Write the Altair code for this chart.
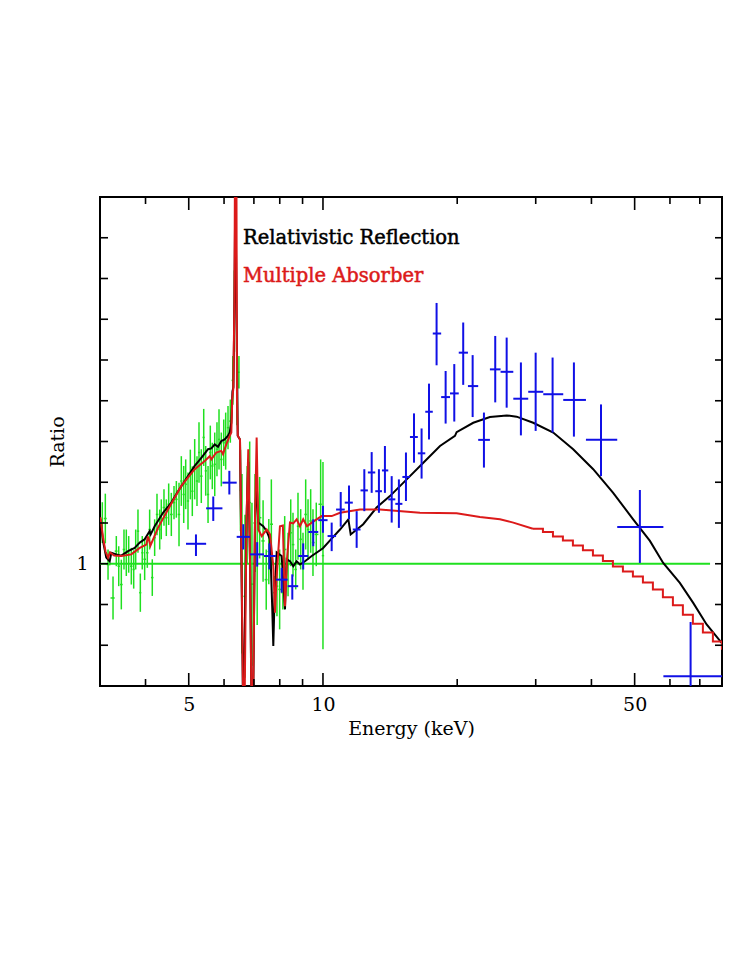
import altair as alt
import pandas as pd
import numpy as np

# ---------------- data ----------------
# green: low-energy spectrum (ratio points with 1-sigma errors)
green_E = [3.20, 3.25, 3.296, 3.382, 3.440, 3.483, 3.530, 3.579, 3.622, 3.667,
           3.717, 3.763, 3.802, 3.847, 3.894, 3.933, 3.982, 4.037, 4.086, 4.142,
           4.193, 4.244, 4.304, 4.339, 4.400, 4.453, 4.508, 4.570, 4.634, 4.690,
           4.755, 4.812, 4.872, 4.922, 4.981, 5.041, 5.093, 5.156, 5.218, 5.272,
           5.335, 5.402, 5.458, 5.524, 5.589, 5.647, 5.718, 5.785, 5.846, 5.916,
           5.990, 6.051, 6.124, 6.198, 6.28, 6.33, 6.36, 6.415, 6.48, 6.53,
           6.583, 6.685, 6.76, 6.85, 6.93, 7.04, 7.12, 7.21, 7.34, 7.46,
           7.56, 7.66, 7.79, 7.885, 7.995, 8.13, 8.206, 8.35, 8.466, 8.566,
           8.687, 8.79, 8.913, 9.02, 9.146, 9.257, 9.385, 9.497, 9.66, 9.88, 10.0]
green_R = [1.101, 1.111, 0.998, 0.916, 1.031, 0.994, 0.949, 1.035, 1.027, 1.023,
           0.994, 0.986, 1.035, 1.080, 0.929, 1.027, 1.011, 1.027, 1.084, 0.966,
           1.064, 1.121, 1.084, 1.109, 1.138, 1.113, 1.146, 1.121, 1.150, 1.158,
           1.121, 1.203, 1.170, 1.195, 1.154, 1.219, 1.178, 1.232, 1.203, 1.273,
           1.215, 1.310, 1.228, 1.170, 1.273, 1.240, 1.244, 1.281, 1.305, 1.256,
           1.297, 1.301, 1.334, 1.350, 1.45, 1.62, 1.72, 1.40, 1.47, 1.18,
           1.00, 0.92, 1.12, 1.15, 0.95, 1.10, 1.00, 1.113, 1.056, 0.961,
           1.03, 1.097, 0.929, 0.945, 0.937, 0.929, 1.035, 0.998, 1.076, 1.047,
           0.986, 1.092, 1.060, 1.006, 1.121, 1.084, 1.105, 1.052, 1.072, 1.146, 1.02]
green_err = [0.05, 0.061, 0.037, 0.053, 0.037, 0.049, 0.061, 0.049, 0.057, 0.045,
             0.045, 0.047, 0.049, 0.053, 0.047, 0.041, 0.051, 0.037, 0.049, 0.045,
             0.045, 0.051, 0.049, 0.049, 0.045, 0.045, 0.051, 0.053, 0.041, 0.045,
             0.078, 0.061, 0.070, 0.061, 0.070, 0.061, 0.061, 0.074, 0.061, 0.074,
             0.066, 0.070, 0.061, 0.070, 0.066, 0.057, 0.078, 0.066, 0.074, 0.066,
             0.057, 0.070, 0.053, 0.053, 0.06, 0.10, 0.08, 0.06, 0.04, 0.10,
             0.22, 0.20, 0.12, 0.15, 0.20, 0.12, 0.15, 0.10, 0.10, 0.074,
             0.08, 0.11, 0.041, 0.074, 0.098, 0.041, 0.082, 0.078, 0.082, 0.078,
             0.049, 0.082, 0.074, 0.070, 0.086, 0.074, 0.078, 0.082, 0.078, 0.11, 0.23]

# blue: hard X-ray binned ratio points
blue_E = [5.19, 5.675, 6.166, 6.627, 7.12, 7.58, 8.08, 8.535, 9.03, 9.51,
          10.0, 10.46, 10.96, 11.44, 11.90, 12.38, 12.86, 13.35, 13.77, 14.26,
          14.80, 15.35, 16.0, 16.64, 17.29, 17.98, 18.84, 19.70, 20.63, 21.66,
          22.96, 24.34, 25.82, 27.79, 29.99, 32.73, 36.54, 42.02, 51.37, 66.75]
blue_edges = [4.93, 5.47, 5.95, 6.405, 6.86, 7.375, 7.846, 8.335, 8.80, 9.27,
              9.76, 10.24, 10.70, 11.19, 11.665, 12.14, 12.61, 13.10, 13.56, 14.01,
              14.53, 15.07, 15.67, 16.32, 16.96, 17.63, 18.41, 19.27, 20.16, 21.14,
              22.29, 23.68, 25.02, 26.72, 28.86, 31.19, 34.58, 38.88, 45.7, 58.0, 79.0]
blue_R = [1.049, 1.136, 1.199, 1.066, 1.023, 1.019, 0.961, 0.945, 1.019, 1.078,
          1.107, 1.068, 1.133, 1.150, 1.084, 1.180, 1.224, 1.178, 1.229, 1.158,
          1.147, 1.213, 1.311, 1.271, 1.373, 1.565, 1.409, 1.418, 1.518, 1.436,
          1.304, 1.477, 1.471, 1.405, 1.422, 1.416, 1.402, 1.304, 1.090, 0.724]
blue_Rlo = [1.019, 1.105, 1.170, 1.035, 0.993, 0.986, 0.929, 0.912, 0.986, 1.043,
            1.076, 1.031, 1.091, 1.109, 1.039, 1.129, 1.174, 1.125, 1.174, 1.101,
            1.088, 1.154, 1.248, 1.209, 1.305, 1.487, 1.344, 1.349, 1.439, 1.360,
            1.236, 1.396, 1.383, 1.315, 1.326, 1.322, 1.312, 1.215, 1.002, 0.55]
blue_Rhi = [1.072, 1.165, 1.228, 1.097, 1.053, 1.050, 0.990, 0.974, 1.050, 1.109,
            1.142, 1.101, 1.176, 1.192, 1.129, 1.232, 1.274, 1.232, 1.289, 1.215,
            1.207, 1.273, 1.369, 1.332, 1.442, 1.640, 1.473, 1.490, 1.592, 1.512,
            1.371, 1.559, 1.555, 1.494, 1.518, 1.506, 1.494, 1.391, 1.181, 0.857]

# black: relativistic reflection model
black_E = [3.170, 3.211, 3.266, 3.324, 3.352, 3.440, 3.530, 3.654, 3.782, 3.882,
           3.982, 4.086, 4.108, 4.193, 4.378, 4.570, 4.731, 4.981, 5.156, 5.335,
           5.524, 5.619, 5.718, 5.816, 5.916, 6.020, 6.124, 6.178, 6.230, 6.266,
           6.298, 6.331, 6.363, 6.397, 6.440, 6.515, 6.627, 6.738, 6.800, 6.860,
           6.920, 6.966, 7.040, 7.100, 7.160, 7.345, 7.478, 7.607, 7.697, 7.738,
           7.786, 7.874, 8.080, 8.219, 8.291, 8.433, 8.578, 8.730, 8.879, 9.114,
           9.434, 10.00, 10.42, 10.92, 11.40, 11.54, 12.31, 13.19, 14.13, 15.41,
           16.79, 18.30, 19.77, 19.94, 21.73, 23.68, 25.82, 27.18, 29.61, 32.84,
           36.40, 40.37, 44.75, 49.62, 54.10, 57.94, 63.14, 67.65, 72.51, 78.46]
black_R = [1.109, 1.056, 1.015, 1.006, 1.027, 1.023, 1.020, 1.031, 1.039, 1.052,
           1.060, 1.080, 1.072, 1.092, 1.125, 1.150, 1.178, 1.215, 1.240, 1.260,
           1.281, 1.283, 1.293, 1.287, 1.301, 1.305, 1.314, 1.322, 1.346, 1.423,
           1.433, 1.649, 1.950, 1.650, 1.314, 1.305, 0.600, 1.109, 1.250, 1.011,
           0.600, 0.600, 1.109, 1.200, 1.101, 1.092, 1.080, 1.060, 0.888, 0.798,
           0.912, 1.028, 1.019, 0.888, 1.011, 1.006, 0.994, 1.006, 0.998, 1.006,
           1.019, 1.038, 1.060, 1.084, 1.109, 1.072, 1.097, 1.138, 1.166, 1.207,
           1.248, 1.289, 1.314, 1.323, 1.346, 1.360, 1.364, 1.361, 1.346, 1.322,
           1.281, 1.232, 1.174, 1.109, 1.056, 1.002, 0.953, 0.904, 0.851, 0.805]

# red: multiple absorber model (smooth part, then binned high-energy steps)
red_E = [3.170, 3.211, 3.253, 3.296, 3.330, 3.400, 3.530, 3.717, 3.882, 4.016,
         4.051, 4.104, 4.266, 4.492, 4.812, 5.156, 5.430, 5.572, 5.619, 5.765,
         5.916, 5.968, 6.070, 6.178, 6.230, 6.260, 6.292, 6.331, 6.357, 6.390,
         6.415, 6.440, 6.515, 6.567, 6.627, 6.668, 6.738, 6.800, 6.860, 6.920,
         6.966, 7.040, 7.100, 7.160, 7.287, 7.478, 7.607, 7.738, 7.806, 7.865,
         8.008, 8.130, 8.219, 8.304, 8.433, 8.578, 8.730, 8.879, 9.030, 9.207,
         9.434, 9.933, 10.46, 10.92, 12.11, 13.42, 16.50, 19.94, 22.49, 24.94,
         26.72, 29.57]
red_R = [1.114, 1.065, 1.030, 1.015, 1.028, 1.020, 1.019, 1.023, 1.039, 1.047,
         1.067, 1.045, 1.088, 1.133, 1.191, 1.232, 1.252, 1.264, 1.256, 1.273,
         1.277, 1.269, 1.293, 1.314, 1.322, 1.404, 1.428, 1.649, 2.140, 2.140,
         1.404, 1.314, 1.305, 1.011, 0.620, 0.620, 1.109, 1.281, 1.011, 0.620,
         0.620, 1.109, 1.310, 1.084, 1.068, 1.084, 1.072, 0.994, 0.880, 0.961,
         1.092, 1.094, 0.896, 1.011, 1.101, 1.099, 1.109, 1.092, 1.109, 1.092,
         1.101, 1.117, 1.117, 1.125, 1.133, 1.133, 1.125, 1.124, 1.115, 1.109,
         1.101, 1.086]
red_step_E = [29.57, 31.14, 32.79, 34.52, 36.35, 38.28, 40.31, 42.44, 44.69, 47.06,
              49.55, 52.18, 54.94, 57.85, 60.92, 64.14, 67.54, 71.12, 74.89, 78.46]
red_step_R = [1.086, 1.078, 1.067, 1.057, 1.045, 1.033, 1.020, 1.007, 0.993, 0.981,
              0.969, 0.954, 0.937, 0.918, 0.898, 0.875, 0.853, 0.831, 0.809, 0.789]

# unity reference line extent
unity_E = [3.162, 73.8]

# axis ticks / labels
x_major = [5, 10, 50]
x_minor = [4, 6, 7, 8, 9, 20, 30, 40, 60, 70]
y_ticks = [0.8, 0.9, 1.0, 1.1, 1.2, 1.3, 1.4, 1.5, 1.6, 1.7, 1.8]
y_labels = [1]
legend_labels = ["Relativistic Reflection", "Multiple Absorber"]

# ---------------- build tables ----------------
gE = np.array(green_E)
mid = np.sqrt(gE[1:] * gE[:-1])
g_lo = np.concatenate([[gE[0] ** 2 / mid[0]], mid])
g_hi = np.concatenate([mid, [gE[-1] ** 2 / mid[-1]]])
green = pd.DataFrame({
    "E": gE, "R": green_R,
    "Rlo": np.array(green_R) - np.array(green_err),
    "Rhi": np.array(green_R) + np.array(green_err),
    "Elo": g_lo, "Ehi": g_hi,
})
blue = pd.DataFrame({
    "E": blue_E, "R": blue_R, "Rlo": blue_Rlo, "Rhi": blue_Rhi,
    "Elo": blue_edges[:-1], "Ehi": blue_edges[1:],
})
black = pd.DataFrame({"E": black_E, "R": black_R})
red = pd.DataFrame({"E": red_E, "R": red_R})
red_steps = pd.DataFrame({"E": red_step_E, "R": red_step_R})
unity = pd.DataFrame({"E": unity_E, "R": [1.0, 1.0]})

W, H = 622, 489
FONT = "DejaVu Serif"
GREEN = "#1fe01f"
BLUE = "#1010e6"
RED = "#dc1a1a"

xs = alt.Scale(type="log", domain=[3.162, 78.5], nice=False)
ys = alt.Scale(domain=[0.7, 1.9], nice=False, zero=False)

x_axis = alt.Axis(values=x_major, title="Energy (keV)", ticks=False, tickSize=0,
                  domain=False, grid=False, labelFont=FONT, labelFontSize=19,
                  labelColor="black", labelPadding=9, labelFlush=False,
                  titleFont=FONT, titleFontSize=19, titleFontWeight="normal",
                  titleColor="black", titlePadding=5, format="~g")
y_axis = alt.Axis(values=y_labels, title="Ratio", ticks=False, tickSize=0,
                  domain=False, grid=False, labelFont=FONT, labelFontSize=19,
                  labelColor="black", labelPadding=12, titleFont=FONT,
                  titleFontSize=19, titleFontWeight="normal", titleColor="black",
                  titlePadding=8, format="~g")


def X(field):
    return alt.X(field, type="quantitative", scale=xs, axis=x_axis, title="Energy (keV)")


def Y(field):
    return alt.Y(field, type="quantitative", scale=ys, axis=y_axis, title="Ratio")


g_v = alt.Chart(green).mark_rule(color=GREEN, strokeWidth=1.5, clip=True).encode(
    x=X("E"), y=Y("Rlo"), y2="Rhi:Q")
g_h = alt.Chart(green).mark_rule(color=GREEN, strokeWidth=1.5, clip=True).encode(
    x=X("Elo"), x2="Ehi:Q", y=Y("R"))
unity_line = alt.Chart(unity).mark_line(color=GREEN, strokeWidth=2, clip=True).encode(
    x=X("E"), y=Y("R"))

black_line = alt.Chart(black).mark_line(color="black", strokeWidth=2, clip=True).encode(
    x=X("E"), y=Y("R"))
red_line = alt.Chart(red).mark_line(color=RED, strokeWidth=2, clip=True).encode(
    x=X("E"), y=Y("R"))
red_step = alt.Chart(red_steps).mark_line(color=RED, strokeWidth=2, clip=True,
                                          interpolate="step-after").encode(
    x=X("E"), y=Y("R"))

b_v = alt.Chart(blue).mark_rule(color=BLUE, strokeWidth=2, clip=True).encode(
    x=X("E"), y=Y("Rlo"), y2="Rhi:Q")
b_h = alt.Chart(blue).mark_rule(color=BLUE, strokeWidth=2, clip=True).encode(
    x=X("Elo"), x2="Ehi:Q", y=Y("R"))

# inward tick marks on all four sides
xmaj = pd.DataFrame({"E": x_major})
xmin = pd.DataFrame({"E": x_minor})
yt = pd.DataFrame({"R": y_ticks})
ticks = []
for df, ln in ((xmaj, 13), (xmin, 7)):
    ticks.append(alt.Chart(df).mark_rule(color="black", strokeWidth=1.6).encode(
        x=X("E"), y=alt.value(H), y2=alt.value(H - ln)))
    ticks.append(alt.Chart(df).mark_rule(color="black", strokeWidth=1.6).encode(
        x=X("E"), y=alt.value(0), y2=alt.value(ln)))
ticks.append(alt.Chart(yt).mark_rule(color="black", strokeWidth=1.6).encode(
    y=Y("R"), x=alt.value(0), x2=alt.value(8)))
ticks.append(alt.Chart(yt).mark_rule(color="black", strokeWidth=1.6).encode(
    y=Y("R"), x=alt.value(W), x2=alt.value(W - 7)))

leg = pd.DataFrame({"label": legend_labels})
leg1 = alt.Chart(leg).transform_filter(alt.datum.label == legend_labels[0]).mark_text(
    align="left", baseline="alphabetic", font=FONT, fontSize=19.5, color="black",
    stroke="black", strokeWidth=0.5).encode(
    x=alt.value(143), y=alt.value(47), text="label:N")
leg2 = alt.Chart(leg).transform_filter(alt.datum.label == legend_labels[1]).mark_text(
    align="left", baseline="alphabetic", font=FONT, fontSize=19.5, color=RED,
    stroke=RED, strokeWidth=0.5).encode(
    x=alt.value(143), y=alt.value(85), text="label:N")

chart = alt.layer(g_v, g_h, unity_line, black_line, red_line, red_step, b_v, b_h,
                  *ticks, leg1, leg2).properties(
    width=W, height=H,
    autosize=alt.AutoSizeParams(type="none"),
    padding={"left": 92, "top": 189, "right": 17, "bottom": 260},
    background="white",
).configure_view(stroke="black", strokeWidth=2)

chart.save("out.html", embed_options={"renderer": "svg", "actions": False})
